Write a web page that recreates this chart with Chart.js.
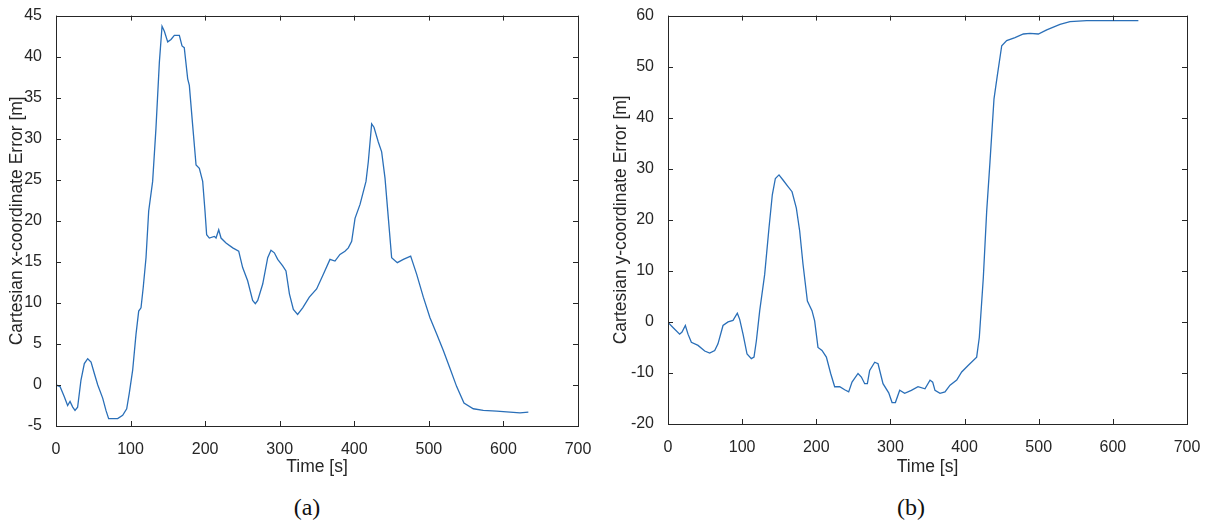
<!DOCTYPE html>
<html>
<head>
<meta charset="utf-8">
<script src="https://cdn.jsdelivr.net/npm/chart.js@4/dist/chart.umd.min.js"></script>
<style>
  body { margin: 0; background: #fff; width: 1208px; height: 529px; position: relative; overflow: hidden; }
  .box { position: absolute; top: 0; height: 490px; }
  .cap { position: absolute; top: 494px; font-family: "Liberation Serif", "DejaVu Serif", serif; font-size: 24px; color: #111; transform: translateX(-50%); }
</style>
</head>
<body>
<div class="box" style="left:0;width:600px"><canvas id="plot_x"></canvas></div>
<div class="box" style="left:604px;width:604px"><canvas id="plot_y"></canvas></div>
<div class="cap" style="left:307px">(a)</div>
<div class="cap" style="left:911px">(b)</div>
<script>
// x-coordinate error over time
const timeX = [0,5.4,11,15.6,18.8,22.4,25.5,29,33.5,38,42.5,47,51.4,56,62.6,67,70.6,76,82.7,89.4,94.8,98.3,102.8,107.3,110.9,114,117,120.7,124.3,129.6,134,138.6,142.2,145.3,149.8,154.2,158.7,165.4,169,172,176.6,178.8,183.3,187.8,192.2,196.7,199.8,202,205.6,212.3,214.6,218.2,221.3,228,237,245,250.3,257,263.7,267.3,270.5,277.2,283.9,288.3,292.8,297.3,304,308.4,313,318.3,324,330.8,339.7,349.5,358.5,367.4,374.1,380.8,387.5,392,396.5,401,407.7,415.7,418.8,423.3,426.4,432.2,436.7,441.2,445.7,450.1,457.7,465.8,475.6,483.6,492.6,501.5,510.5,519.4,528.4,537.3,547.1,559.6,573,590.9,608.8,622.2,633.4]
const errorX = [0,-0.2,-1.4,-2.5,-2.0,-2.7,-3.1,-2.7,0.6,2.6,3.2,2.8,1.4,0,-1.6,-3.1,-4.1,-4.1,-4.1,-3.7,-2.9,-1.0,1.8,6.2,9.0,9.4,11.9,15.5,21.2,24.8,31.2,39.3,43.7,43.1,41.8,42.1,42.6,42.6,41.3,41.1,37.3,36.5,31.6,26.8,26.4,24.8,21.2,18.3,17.9,18.1,17.9,18.9,17.9,17.3,16.7,16.3,14.3,12.7,10.3,9.9,10.3,12.3,15.5,16.4,16.1,15.3,14.5,13.9,11.1,9.2,8.6,9.4,10.7,11.7,13.5,15.3,15.1,15.9,16.3,16.7,17.5,20.3,22.0,24.8,27.2,31.8,31.4,29.6,28.4,25.2,20.3,15.5,14.9,15.3,15.7,13.5,10.7,8.2,6.2,4.2,2.0,-0.2,-2.2,-2.9,-3.1,-3.2,-3.3,-3.4,-3.3]

// y-coordinate error over time
const timeY = [0,6.7,15.7,18.9,23.4,27,31.5,40.5,49.5,56.2,63,67.4,74.2,81,87.7,93.5,96.7,101.2,106.6,112.4,116,119.2,123.7,130.4,136.2,140.7,144.8,149.7,155.1,161.9,167.3,173.1,177.6,182.1,188,194.2,197.8,202.3,207.7,213.6,219.4,224.8,231.6,238.3,243.7,248.2,256.3,260.8,265.3,268.9,272,278.8,283.3,290,297.7,302.2,306.7,312.5,319.2,328.2,337.2,346.6,353.4,357,360.1,366.9,373.6,380.4,389.4,396.1,405.1,416.3,419.9,425.3,429.8,434.3,439.7,444.2,450.1,456.8,468,479.3,488.3,499.5,510.8,528.7,542.2,564.7,591.7,614.2,634.4]
const errorY = [-0.1,-1.1,-2.4,-2.0,-0.7,-2.4,-4.0,-4.6,-5.7,-6.1,-5.6,-4.3,-0.7,0.0,0.3,1.7,0.5,-2.4,-6.3,-7.2,-6.9,-3.7,2.2,9.3,18.4,24.9,28.1,28.8,27.8,26.5,25.5,22.3,17.8,11.3,4.1,2.2,0.2,-5.0,-5.6,-6.9,-10.1,-12.7,-12.7,-13.3,-13.7,-11.8,-10.1,-10.8,-12.1,-12.1,-9.5,-7.9,-8.2,-12.1,-13.9,-15.8,-15.8,-13.4,-14.0,-13.4,-12.7,-13.1,-11.4,-11.8,-13.4,-14.0,-13.7,-12.4,-11.4,-9.8,-8.5,-6.9,-3.0,8.7,21.6,31.4,43.7,48.3,54.1,55.1,55.7,56.4,56.5,56.4,57.2,58.3,58.8,59.0,59.0,59.0,59.0]

const timeTicks = { min: 0, max: 700, step: 100 }
const lineBlue = '#2a6fb8'
const inkColor = '#262626'
const fontFamily = '"Liberation Sans", Arial, Helvetica, sans-serif'

// matlab style box with inward ticks on every side
const boxAxes = {
	id: 'boxAxes',
	afterDraw(chart){
		const c = chart.ctx
		const a = chart.chartArea
		const xs = chart.scales.x
		const ys = chart.scales.y
		const len = 5
		c.save()
		c.strokeStyle = inkColor
		c.lineWidth = 1
		c.beginPath()
		xs.ticks.forEach(t => {
			const px = Math.round(xs.getPixelForValue(t.value)) + 0.5
			c.moveTo(px, a.bottom); c.lineTo(px, a.bottom - len)
			c.moveTo(px, a.top); c.lineTo(px, a.top + len)
		})
		ys.ticks.forEach(t => {
			const py = Math.round(ys.getPixelForValue(t.value)) + 0.5
			c.moveTo(a.left, py); c.lineTo(a.left + len, py)
			c.moveTo(a.right, py); c.lineTo(a.right - len, py)
		})
		c.stroke()
		c.strokeRect(Math.round(a.left) + 0.5, Math.round(a.top) + 0.5, Math.round(a.right - a.left), Math.round(a.bottom - a.top))
		c.restore()
	}
}

function makeChart(id, times, values, yTitle, yMin, yMax, yStep, yWidth, xHeight, padRight){
	const points = times.map((t, i) => ({x: t, y: values[i]}))
	return new Chart(document.getElementById(id), {
		type: 'line',
		data: {
			datasets: [{
				data: points,
				borderColor: lineBlue,
				borderWidth: 1.3,
				pointRadius: 0,
				tension: 0,
				fill: false
			}]
		},
		options: {
			responsive: true,
			maintainAspectRatio: false,
			animation: false,
			layout: { padding: { top: 13, right: padRight, left: 0, bottom: 0 } },
			plugins: { legend: { display: false }, tooltip: { enabled: false } },
			scales: {
				x: {
					type: 'linear',
					min: timeTicks.min,
					max: timeTicks.max,
					grid: { display: false },
					border: { display: false },
					ticks: { stepSize: timeTicks.step, color: inkColor, padding: 6, maxRotation: 0, font: { family: fontFamily, size: 16 } },
					title: { display: true, text: 'Time [s]', color: inkColor, padding: { top: 0, bottom: 12 }, font: { family: fontFamily, size: 17.5 } },
					afterFit(scale){ scale.height = xHeight }
				},
				y: {
					min: yMin,
					max: yMax,
					grid: { display: false },
					border: { display: false },
					ticks: { stepSize: yStep, color: inkColor, padding: 6, font: { family: fontFamily, size: 16 } },
					title: { display: true, text: yTitle, color: inkColor, padding: { top: 7, bottom: 0 }, font: { family: fontFamily, size: 17.5 } },
					afterFit(scale){ scale.width = yWidth }
				}
			}
		},
		plugins: [boxAxes]
	})
}

const chartX = makeChart('plot_x', timeX, errorX, 'Cartesian x-coordinate Error [m]', -5, 45, 5, 56, 64, 22)
const chartY = makeChart('plot_y', timeY, errorY, 'Cartesian y-coordinate Error [m]', -20, 60, 10, 64, 66, 21)
</script>
</body>
</html>
